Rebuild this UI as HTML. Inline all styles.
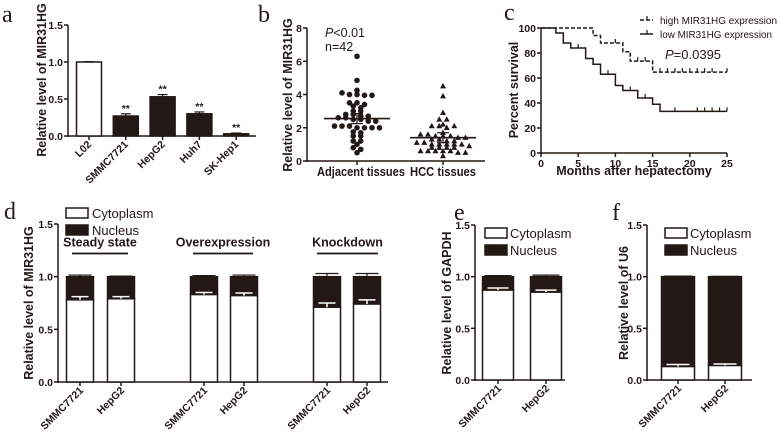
<!DOCTYPE html>
<html><head><meta charset="utf-8"><style>
html,body{margin:0;padding:0;background:#fff;}
svg{display:block;font-family:"Liberation Sans",Arial,sans-serif;}
.t{font-weight:bold;font-size:10.5px;fill:#231815;}
.ttl{font-weight:bold;font-size:12.5px;fill:#231815;}
.lab{font-family:"Liberation Serif",serif;font-size:24px;fill:#231815;}
</style></head><body>
<svg id="fig" width="778" height="441" viewBox="0 0 778 441" xmlns="http://www.w3.org/2000/svg">
<g id="root"></g>
</svg>
<script>
// ---- Panel a data
const aCats = ["L02","SMMC7721","HepG2","Huh7","SK-Hep1"];
const aVals = [1.0,0.27,0.53,0.30,0.03];
const aErr = [0.005,0.03,0.03,0.025,0.01];
const aTicks = [0,0.5,1.0,1.5];
// ---- Panel b data
const bAdj = [6.3,4.85,4.25,4.1,4.0,4.0,3.95,3.95,3.5,3.5,3.4,3.3,3.2,3.0,3.0,2.8,2.8,2.7,2.7,2.6,2.6,2.5,2.5,2.4,2.4,2.1,2.1,2.1,2.0,2.0,2.0,2.0,1.75,1.7,1.5,1.5,1.2,1.2,1.0,0.8,0.7,0.5];
const bHcc = [4.5,3.9,2.9,2.5,2.5,2.2,2.1,2.1,2.0,2.1,1.7,1.6,1.6,1.5,1.5,1.5,1.4,1.4,1.3,1.3,1.2,1.2,1.1,1.1,1.0,1.0,1.0,1.0,1.0,0.9,0.8,0.8,0.8,0.8,0.6,0.6,0.6,0.6,0.6,0.5,0.5,0.3];
const bMeans = [2.55,1.4];
const bTicks = [0,2,4,6,8];
// ---- Panel c data (step curves: [month, percent])
const cHigh = [[0,100],[7,94],[8,88],[11,81],[12,73.5],[15,64.7],[25,64.7]];
const cHighCens = [[10,88],[13,73.5],[14,73.5],[16,64.7],[17,64.7],[18,64.7],[19,64.7],[20,64.7],[21,64.7],[22,64.7],[23,64.7],[25,64.7]];
const cLow = [[0,100],[2,96],[3,88],[4,84],[6,75.6],[7,71],[8,63],[10,54],[11,50],[13,44],[15,39],[16,33.3],[25,33.3]];
const cLowCens = [[5,84],[9,63],[12,50],[14,44],[18,33.3],[21,33.3],[22,33.3],[23,33.3],[24,33.3],[25,33.3]];
const cXTicks = [0,5,10,15,20,25];
const cYTicks = [0,20,40,60,80,100];
// ---- Panel d data
const dCats = ["SMMC7721","HepG2","SMMC7721","HepG2","SMMC7721","HepG2"];
const dCyto = [0.78,0.79,0.83,0.82,0.71,0.74];
const dCytoErr = [0.03,0.02,0.02,0.025,0.04,0.04];
const dTotErr = [0.015,0.005,0.01,0.015,0.03,0.03];
const dGroups = ["Steady state","Overexpression","Knockdown"];
// ---- Panel e/f data
const eCats = ["SMMC7721","HepG2"];
const eCyto = [0.87,0.85];
const fCyto = [0.13,0.14];
const stackTicks = [0,0.5,1.0,1.5];

const NS="http://www.w3.org/2000/svg";
const root=document.getElementById('root');
const C="#231815";
function el(tag,attrs,parent,txt){const e=document.createElementNS(NS,tag);for(const k in attrs)e.setAttribute(k,attrs[k]);if(txt!==undefined)e.textContent=txt;(parent||root).appendChild(e);return e;}
function line(x1,y1,x2,y2,p,w,dash){const a={x1,y1,x2,y2,stroke:C,"stroke-width":w||1.5};if(dash)a["stroke-dasharray"]=dash;return el('line',a,p);}
function grp(name){const g=el('g',{},root);return g;}
function yAxis(g,x,y0,y1,ticks,sc,fmt,fs){line(x,y0+1,x,y1,g);ticks.forEach(t=>{const y=sc(t);line(x-4,y,x,y,g);const tx=el('text',{x:x-5,y:y+4,"text-anchor":"end",class:"t","font-size":(fs||10.5)+"px"},g,fmt(t));});}
function rotLabel(g,x,y,s,name,fs){const t=el('text',{x:x,y:y,"text-anchor":"end",class:"t","font-size":(fs||10.5)+"px",transform:`rotate(-45 ${x} ${y})`},g,s);}
function panelLabel(s,x,y){const t=el('text',{x,y,class:"lab"},root,s);}
function yTitle(g,x,y,s,fs){const t=el('text',{x,y,"text-anchor":"middle",class:"ttl","font-size":(fs||12.5)+"px",transform:`rotate(-90 ${x} ${y})`},g,s);}
const f1=v=>v.toFixed(1);

// ===== Panel a
(function(){
 const g=grp('panel-a');panelLabel('a',2,22);
 const y0=136,y1=25,sy=v=>y0-(v/1.5)*(y0-y1);
 const xs=i=>89+i*36.8;
 yAxis(g,68,y0,y1,aTicks,sy,f1);line(67,y0,256,y0,g);
 yTitle(g,46,80,'Relative level of MIR31HG',12);
 aCats.forEach((c,i)=>{const x=xs(i),w=25;
  const r=el('rect',{x:x-w/2,y:sy(aVals[i]),width:w,height:y0-sy(aVals[i]),fill:i==0?"#fff":C,stroke:C,"stroke-width":1.5},g);
  
  const ey=sy(aVals[i]+aErr[i]);line(x,sy(aVals[i]),x,ey,g,1.2);line(x-5,ey,x+5,ey,g,1.2);
  line(x,y0,x,y0+4,g);
  if(i>0){const s=el('text',{x:x,y:ey-2,"text-anchor":"middle",class:"t"},g,'**');}
  rotLabel(g,x+3,y0+9,c,'x-tick-label',11);
 });
})();

// ===== Panel b
(function(){
 const g=grp('panel-b');panelLabel('b',258,22);
 const y0=161,y1=28,sy=v=>y0-(v/8)*(y0-y1);
 yAxis(g,307,y0,y1,bTicks,sy,v=>String(v));line(306,y0,485,y0,g);
 yTitle(g,292,95,'Relative level of MIR31HG',12);
 const centers=[357,443];
 [bAdj,bHcc].forEach((arr,gi)=>{
  const bins={};arr.forEach(v=>{const k=Math.round(v*4);(bins[k]=bins[k]||[]).push(v);});
  Object.keys(bins).forEach(k=>{const vs=bins[k];vs.forEach((v,j)=>{const off=(j-(vs.length-1)/2)*7.5;const x=centers[gi]+off,y=sy(v);
   let m;if(gi==0)m=el('circle',{cx:x,cy:y,r:2.8,fill:C},g);else m=el('path',{d:`M${x} ${y-3.2}L${x+3} ${y+2.2}L${x-3} ${y+2.2}Z`,fill:C},g);
   });});
  const my=sy(bMeans[gi]);const ml=line(centers[gi]-33,my,centers[gi]+33,my,g,1.6);
  line(centers[gi]-6,my-5,centers[gi]+6,my-5,g,1.2);line(centers[gi]-6,my+5,centers[gi]+6,my+5,g,1.2);line(centers[gi],my-5,centers[gi],my+5,g,1.2);
  line(centers[gi],y0,centers[gi],y0+4,g);
 });
 const t1=el('text',{x:317,y:176,class:"ttl",textLength:88,lengthAdjust:"spacingAndGlyphs"},g,'Adjacent tissues');
 const t2=el('text',{x:410,y:176,class:"ttl",textLength:66,lengthAdjust:"spacingAndGlyphs"},g,'HCC tissues');
 const p=el('text',{x:325,y:37,"font-size":"12.5px",fill:C},g);
 el('tspan',{"font-style":"italic"},p,'P');el('tspan',{},p,'<0.01');
 const n=el('text',{x:325,y:51,"font-size":"12.5px",fill:C},g,'n=42');
})();

// ===== Panel c
(function(){
 const g=grp('panel-c');panelLabel('c',504,20);
 const y0=153,y1=28,x0=541,x1=727;
 const sy=v=>y0-(v/100)*(y0-y1),sx=m=>x0+m/25*(x1-x0);
 yAxis(g,x0,y0,y1,cYTicks,sy,v=>String(v),9.5);line(x0-1,y0,x1,y0,g);
 cXTicks.forEach(t=>{line(sx(t),y0,sx(t),y0+4,g);const l=el('text',{x:sx(t),y:y0+14,"text-anchor":"middle",class:"t","font-size":"9.5px"},g,String(t));});
 yTitle(g,518,90,'Percent survival',11);
 const xt=el('text',{x:634,y:175,"text-anchor":"middle",class:"ttl","font-size":"11px"},g,'Months after hepatectomy');
 function step(pts,dash,name){let d=`M${sx(pts[0][0])} ${sy(pts[0][1])}`;for(let i=1;i<pts.length;i++){d+=`H${sx(pts[i][0])}V${sy(pts[i][1])}`;}
  const p=el('path',{d,fill:"none",stroke:C,"stroke-width":1.5},g);if(dash)p.setAttribute('stroke-dasharray',dash);}
 step(cHigh,"4,2","high-expression-curve");step(cLow,null,"low-expression-curve");
 cHighCens.concat(cLowCens).forEach(pt=>{const c=line(sx(pt[0]),sy(pt[1])-4,sx(pt[0]),sy(pt[1]),g,1.2);});
 const lg=[["high MIR31HG expression","4,2",20],["low MIR31HG expression",null,34]];
 lg.forEach(L=>{const e=grp('legend-entry');root.removeChild(e);g.appendChild(e);line(640,L[2],653,L[2],e,1.5,L[1]);line(647,L[2]-4,647,L[2],e,1.2);el('text',{x:660,y:L[2]+4,"font-size":"10.5px",fill:C,textLength:L[2]==20?117:112,lengthAdjust:"spacingAndGlyphs"},e,L[0]);});
 const p=el('text',{x:665,y:59,"font-size":"13px",fill:C},g);
 el('tspan',{"font-style":"italic"},p,'P');el('tspan',{},p,'=0.0395');
})();

// ===== stacked panels helper
function stacked(g,ax,axEnd,y0,y1,centers,cats,cyto,cErr,tErr,w){
 const sy=v=>y0-(v/1.5)*(y0-y1);
 yAxis(g,ax,y0,y1,stackTicks,sy,f1,11.5);line(ax-1,y0,axEnd,y0,g);
 cats.forEach((c,i)=>{const x=centers[i];
  const n=el('rect',{x:x-w/2,y:sy(1),width:w,height:sy(cyto[i])-sy(1),fill:C,stroke:C,"stroke-width":1.5},g);
  const ty=sy(1+tErr[i]);line(x,sy(1),x,ty,g,1.2);line(x-w/2+2,ty,x+w/2-2,ty,g,1.2);
  const b=el('rect',{x:x-w/2,y:sy(cyto[i]),width:w,height:y0-sy(cyto[i]),fill:"#fff",stroke:C,"stroke-width":1.5},g);
  const ey=sy(cyto[i]+cErr[i]);el('line',{x1:x,y1:sy(cyto[i]),x2:x,y2:ey,stroke:"#fff","stroke-width":1.5},g);el('line',{x1:x-w/2+5,y1:ey,x2:x+w/2-5,y2:ey,stroke:"#fff","stroke-width":1.5},g);
  line(x,y0,x,y0+4,g);rotLabel(g,x+4,y0+9,c,'x-tick-label',12);
 });
 return sy;
}
function legend(g,x,y,tx){[["Cytoplasm","#fff",0],["Nucleus",C,17]].forEach(L=>{const e=el('g',{},g);
 el('rect',{x:x,y:y+L[2],width:22,height:10,fill:L[1],stroke:C,"stroke-width":1.5},e);el('text',{x:tx,y:y+L[2]+10,"font-size":"13px",fill:C},e,L[0]);});}

// ===== Panel d
(function(){
 const g=grp('panel-d');panelLabel('d',4,219);
 const sy=stacked(g,58,388,382,224,[80,121,204,244,327,367],dCats,dCyto,dCytoErr,dTotErr,27);
 yTitle(g,33,303,'Relative level of MIR31HG',13);
 legend(g,66,208,92);
 const gx=[[72,128],[193,253],[317,378]];
 dGroups.forEach((s,i)=>{line(gx[i][0],sy(1.22),gx[i][1],sy(1.22),g,1.8);const t=el('text',{x:(gx[i][0]+gx[i][1])/2,y:sy(1.22)-7,"text-anchor":"middle",class:"ttl","font-size":"14.5px"},g,s);});
})();
// ===== Panel e
(function(){
 const g=grp('panel-e');panelLabel('e',454,220);
 stacked(g,475,565,380,225,[498,546],eCats,eCyto,[0.02,0.02],[0.01,0.015],31);
 yTitle(g,451,303,'Relative level of GAPDH',13);
 legend(g,485,228,510);
})();
// ===== Panel f
(function(){
 const g=grp('panel-f');panelLabel('f',612,220);
 stacked(g,647,752,380,225,[678,725],eCats,fCyto,[0.02,0.015],[0.005,0.003],33);
 yTitle(g,628,303,'Relative level of U6',13);
 legend(g,665,228,690);
})();
</script>
</body></html>
